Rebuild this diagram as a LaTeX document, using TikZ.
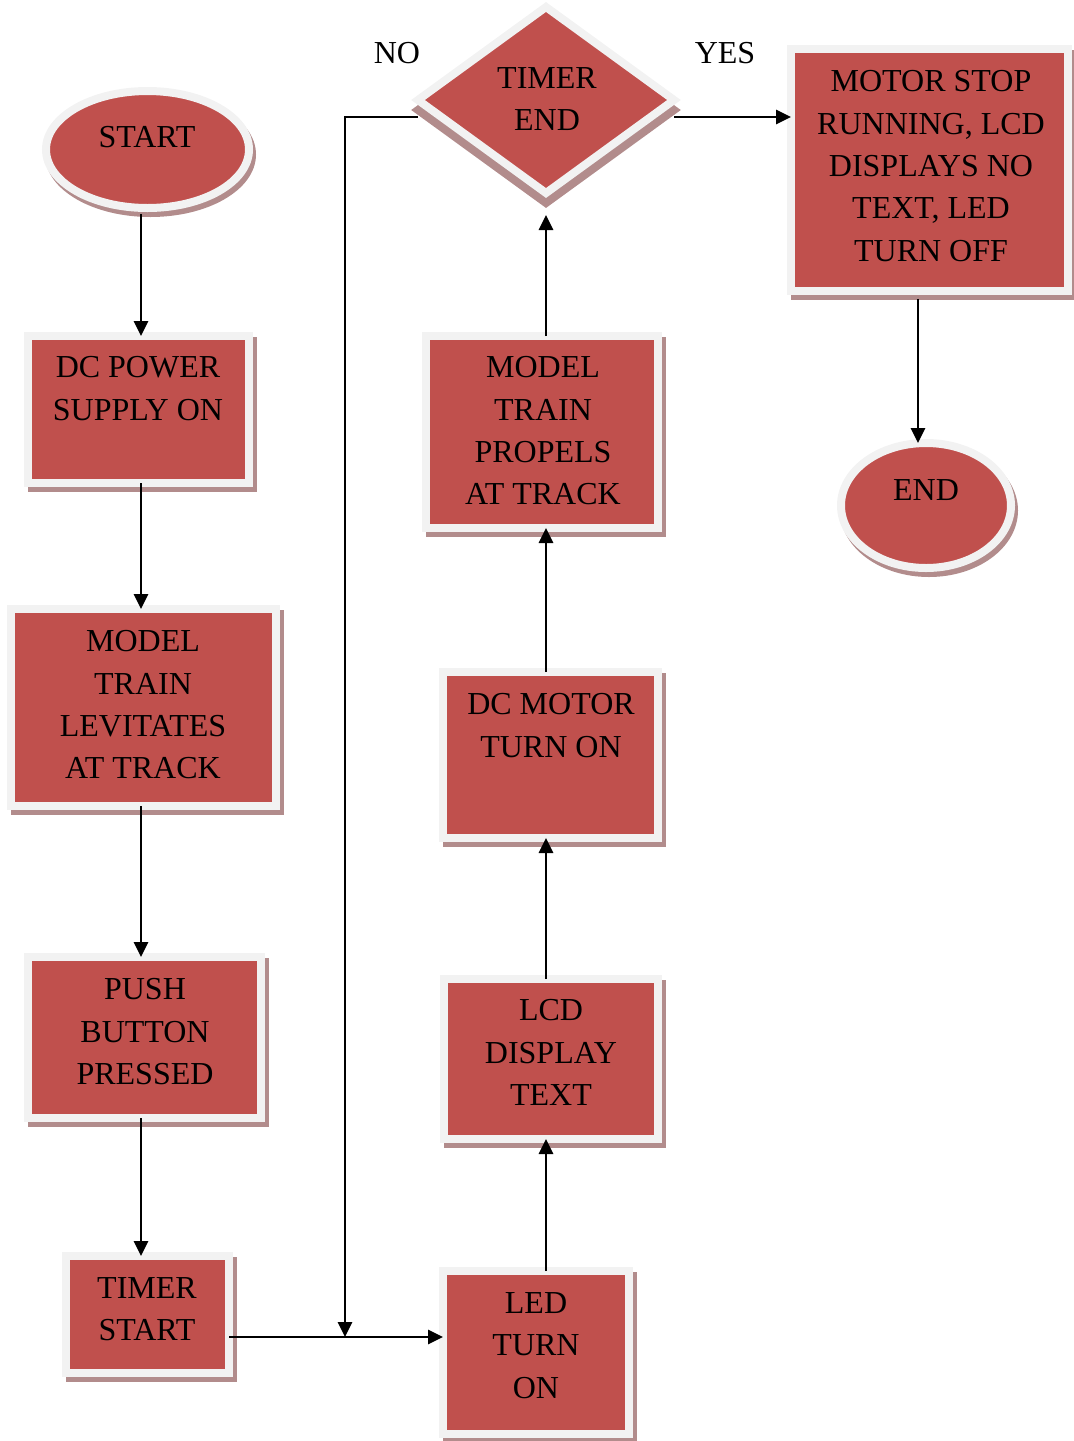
\documentclass[tikz,border=0pt]{standalone}
\usepackage{fontspec}
\setmainfont{Liberation Serif}
\usetikzlibrary{arrows.meta,shapes.geometric}
\definecolor{myred}{HTML}{C0504D}
\definecolor{bgray}{HTML}{F2F2F2}
\definecolor{shc}{HTML}{B28C8C}
\tikzset{
  shp/.style={fill=myred, draw=bgray, line width=8pt, inner sep=0pt, outer sep=0pt},
  shd/.style={preaction={fill=shc, draw=shc, transform canvas={xshift=3.5pt,yshift=-5pt}}},
  boxnode/.style={shp, shd, rectangle},
  ovalnode/.style={shp, preaction={fill=shc, draw=shc, transform canvas={xshift=3pt,yshift=-5pt}}, ellipse},
  dianode/.style={shp, preaction={fill=shc, draw=shc, transform canvas={xshift=0pt,yshift=-10pt}}, diamond},
  txt/.style={font=\fontsize{32}{42.4}\selectfont, align=center, inner sep=0pt, anchor=north},
  arr/.style={line width=2.7pt, -{Triangle[length=15pt,width=14pt]}},
}
\begin{document}
\begin{tikzpicture}[x=1pt,y=-1pt]
\useasboundingbox (0,0) rectangle (1074,1441);
% shapes
\node[ovalnode, minimum width=203pt, minimum height=117pt] (start) at (147.5,149.5) {};
\node[boxnode, minimum width=221pt, minimum height=147pt] (dc) at (138.5,409.5) {};
\node[boxnode, minimum width=265pt, minimum height=197pt] (lev) at (143.5,707.5) {};
\node[boxnode, minimum width=233pt, minimum height=161pt] (push) at (144.5,1037.5) {};
\node[boxnode, minimum width=163pt, minimum height=117pt] (tstart) at (147.5,1314.5) {};
\node[boxnode, minimum width=186pt, minimum height=163pt] (led) at (536,1352.5) {};
\node[boxnode, minimum width=214pt, minimum height=160pt] (lcd) at (551,1059) {};
\node[boxnode, minimum width=215pt, minimum height=166pt] (motor) at (550.5,755) {};
\node[boxnode, minimum width=232pt, minimum height=192pt] (prop) at (542,432) {};
\node[dianode, minimum width=256pt, minimum height=186pt] (dia) at (546,100) {};
\node[boxnode, minimum width=277pt, minimum height=242pt] (stop) at (929.5,170) {};
\node[ovalnode, minimum width=170pt, minimum height=125pt] (end) at (926,505.5) {};
% texts
\node[txt] (tstartlbl) at (147,126.4) {START};
\node[txt] (tdc) at (138,356.4) {DC POWER\\SUPPLY ON};
\node[txt] (tlev) at (143,630.4) {MODEL\\TRAIN\\LEVITATES\\AT TRACK};
\node[txt] (tpush) at (145,978.4) {PUSH\\BUTTON\\PRESSED};
\node[txt] (ttstart) at (147,1277.4) {TIMER\\START};
\node[txt] (tled) at (536,1292.4) {LED\\TURN\\ON};
\node[txt] (tlcd) at (551,999.4) {LCD\\DISPLAY\\TEXT};
\node[txt] (tmotor) at (551,693.4) {DC MOTOR\\TURN ON};
\node[txt] (tprop) at (543,356.4) {MODEL\\TRAIN\\PROPELS\\AT TRACK};
\node[txt] (tdia) at (547,67.4) {TIMER\\END};
\node[txt] (tstop) at (931,70.4) {MOTOR STOP\\RUNNING, LCD\\DISPLAYS NO\\TEXT, LED\\TURN OFF};
\node[txt] (tend) at (926,479.4) {END};
\node[txt] (tno) at (397,42.4) {NO};
\node[txt] (tyes) at (725,42.4) {YES};
% helper coordinates
\coordinate (cL) at (141,0);
\coordinate (cM) at (546,0);
\coordinate (cR) at (918,0);
\coordinate (cNo) at (345,0);
\coordinate (rowT) at (0,117);
\coordinate (rowB) at (0,1337);
% connectors
\draw[arr] ([yshift=-6pt]cL |- start.south) -- (cL |- dc.north);
\draw[arr] (cL |- dc.south) -- (cL |- lev.north);
\draw[arr] (cL |- lev.south) -- (cL |- push.north);
\draw[arr] (cL |- push.south) -- (cL |- tstart.north);
\draw[arr] (rowB -| tstart.east) -- (rowB -| led.west);
\draw[arr] (cM |- led.north) -- (cM |- lcd.south);
\draw[arr] (cM |- lcd.north) -- (cM |- motor.south);
\draw[arr] (cM |- motor.north) -- (cM |- prop.south);
\draw[arr] (cM |- prop.north) -- ([yshift=-22pt]dia.south);
\draw[arr] (rowT -| dia.west) -- (rowT -| cNo) -- (cNo |- rowB);
\draw[arr] (rowT -| dia.east) -- (rowT -| stop.west);
\draw[arr] ([yshift=-8pt]cR |- stop.south) -- (cR |- end.north);
\end{tikzpicture}
\end{document}
